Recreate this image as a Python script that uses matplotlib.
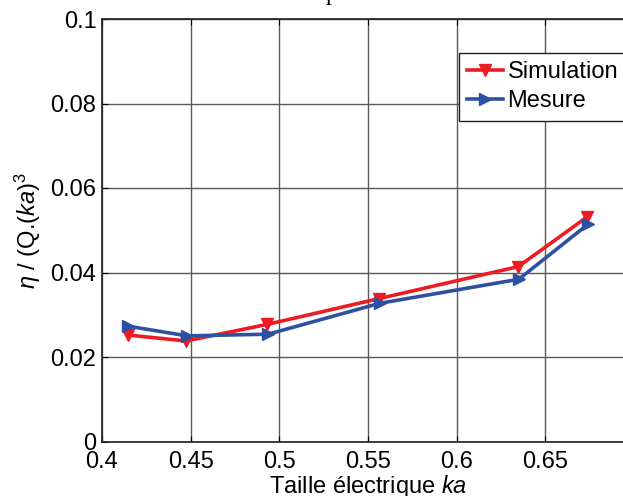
import matplotlib.pyplot as plt

plt.rcParams['font.family'] = ['Liberation Sans', 'DejaVu Sans']
plt.rcParams['mathtext.fontset'] = 'custom'
plt.rcParams['mathtext.rm'] = 'Liberation Sans'
plt.rcParams['mathtext.it'] = 'Liberation Sans:italic'

# data
ka_sim = [0.4147, 0.4474, 0.4930, 0.5560, 0.6348, 0.6737]
eta_sim = [0.0252, 0.0238, 0.0277, 0.0338, 0.0414, 0.0532]
ka_mes = [0.4147, 0.4480, 0.4937, 0.5565, 0.6350, 0.6740]
eta_mes = [0.0273, 0.0250, 0.0254, 0.0327, 0.0384, 0.0514]

xticks = [0.4, 0.45, 0.5, 0.55, 0.6, 0.65]
yticks = [0, 0.02, 0.04, 0.06, 0.08, 0.1]

FS = 17
W, H = 623, 496

fig = plt.figure(figsize=(W / 100, H / 100), dpi=100)
ax = fig.add_axes([102 / W, 1 - 441.5 / H, 532 / W, 422.5 / H])

ax.plot(ka_sim, eta_sim, color='#ec1c24', lw=2.6, marker='v', ms=9,
        label='Simulation')
ax.plot(ka_mes, eta_mes, color='#2e50a2', lw=2.6, marker='>', ms=9,
        label='Mesure')

ax.set_xlim(0.4, 0.7)
ax.set_ylim(0, 0.1)
ax.set_xticks(xticks)
ax.set_xticklabels(['0.4', '0.45', '0.5', '0.55', '0.6', '0.65'])
ax.set_yticks(yticks)
ax.set_yticklabels(['0', '0.02', '0.04', '0.06', '0.08', '0.1'])
ax.grid(True, color='#5a5a5a', lw=1.0)
ax.set_axisbelow(True)
ax.tick_params(direction='in', length=4, width=0.8, top=True, right=True,
               labelsize=FS)
ax.tick_params(axis='x', pad=7)
ax.tick_params(axis='y', pad=4)
for s in ax.spines.values():
    s.set_linewidth(1.2)
    s.set_color('#202020')

ax.set_xlabel('Taille électrique $ka$', fontsize=FS, labelpad=0)
ax.set_ylabel(r'$\eta$ / (Q.($ka$)$^3$', fontsize=FS, labelpad=5)

leg = ax.legend(loc='upper left', bbox_to_anchor=((459 - 102) / 532, (441.5 - 53) / 422.5),
                fontsize=FS, frameon=True, fancybox=False, framealpha=1,
                edgecolor='#202020', borderaxespad=0, borderpad=0.35,
                handlelength=1.5, handletextpad=0.2, labelspacing=0.3,
                numpoints=1)
leg.get_frame().set_linewidth(1.0)

# title cut off at the top of the figure, only a descender shows
fig.text(331 / W, 1.0, 'p', family='Liberation Serif', fontsize=FS,
         ha='center', va='baseline')

fig.savefig('out.png', dpi=100)
